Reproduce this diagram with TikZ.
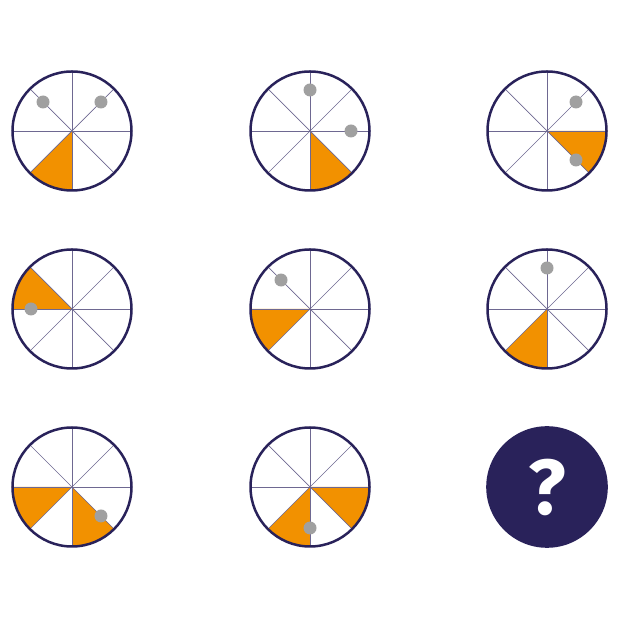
\documentclass[tikz,border=0pt]{standalone}
\usepackage{fontspec}
\newfontfamily\qfont{Fira Sans}
\begin{document}
\begin{tikzpicture}[x=1pt,y=1pt]
\definecolor{color1}{HTML}{F29100}
\definecolor{color2}{HTML}{29225A}
\definecolor{color3}{HTML}{A0A0A0}
\definecolor{color4}{HTML}{6E6891}
\useasboundingbox (0,0) rectangle (620,620);
% orange sectors
\fill[color1] (72,489) -- ++(225:59.5) arc (225:270:59.5) -- cycle;
\fill[color1] (310,489) -- ++(270:59.5) arc (270:315:59.5) -- cycle;
\fill[color1] (547,489) -- ++(315:59.5) arc (315:360:59.5) -- cycle;
\fill[color1] (72,311) -- ++(135:59.5) arc (135:180:59.5) -- cycle;
\fill[color1] (310,311) -- ++(180:59.5) arc (180:225:59.5) -- cycle;
\fill[color1] (547,311) -- ++(225:59.5) arc (225:270:59.5) -- cycle;
\fill[color1] (72,133) -- ++(180:59.5) arc (180:225:59.5) -- cycle;
\fill[color1] (72,133) -- ++(270:59.5) arc (270:315:59.5) -- cycle;
\fill[color1] (310,133) -- ++(225:59.5) arc (225:270:59.5) -- cycle;
\fill[color1] (310,133) -- ++(315:59.5) arc (315:360:59.5) -- cycle;
% spokes
\foreach \cx/\cy in {72/489,310/489,547/489,72/311,310/311,547/311,72/133,310/133}
  \foreach \a in {0,45,...,315}
    \draw[color4,line width=0.7pt] (\cx,\cy) -- ++(\a:59.5);
% grey dots
\fill[color3] (72,489) ++(135:41) circle (6.5);
\fill[color3] (72,489) ++(45:41) circle (6.5);
\fill[color3] (310,489) ++(90:41) circle (6.5);
\fill[color3] (310,489) ++(0:41) circle (6.5);
\fill[color3] (547,489) ++(45:41) circle (6.5);
\fill[color3] (547,489) ++(315:41) circle (6.5);
\fill[color3] (72,311) ++(180:41) circle (6.5);
\fill[color3] (310,311) ++(135:41) circle (6.5);
\fill[color3] (547,311) ++(90:41) circle (6.5);
\fill[color3] (72,133) ++(315:41) circle (6.5);
\fill[color3] (310,133) ++(270:41) circle (6.5);
% rims
\foreach \cx/\cy in {72/489,310/489,547/489,72/311,310/311,547/311,72/133,310/133}
  \draw[color2,line width=2.5pt] (\cx,\cy) circle (59.5);
\fill[color2] (547,133) circle (60.8);
\node[anchor=center,text=white,inner sep=0pt,font=\qfont\bfseries\fontsize{78}{78}\selectfont] (quest) at (547,133) {?};
\end{tikzpicture}
\end{document}
